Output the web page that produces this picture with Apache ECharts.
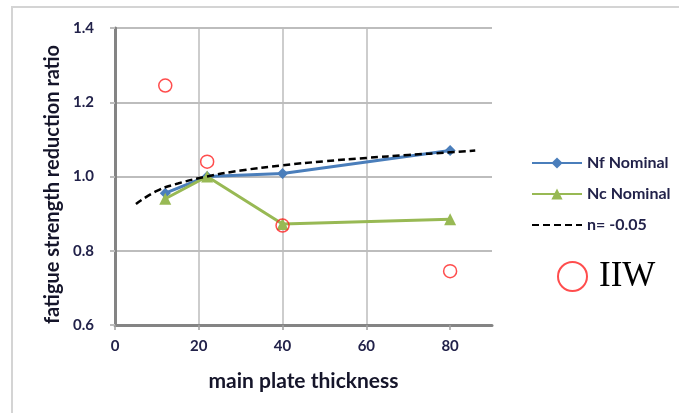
<!DOCTYPE html>
<html>
<head>
<meta charset="utf-8">
<script src="https://cdn.jsdelivr.net/npm/echarts@6/dist/echarts.min.js"></script>
<style>
	html, body { margin: 0; padding: 0; background: #fff; }
	#main { width: 679px; height: 413px; }
</style>
</head>
<body>
<div id="main"></div>
<script>
// values
var thickness = [12, 22, 40, 80];
var nfNominal = [0.955, 1.0, 1.008, 1.07];
var ncNominal = [0.94, 1.0, 0.872, 0.885];
var iiwThickness = [12, 22, 40, 80];
var iiwValues = [1.245, 1.04, 0.868, 0.745];
// dashed n= -0.05 curve
var curveThickness = [5, 10, 15, 22, 30, 40, 50, 60, 70, 80, 86];
var curveValues = [0.926, 0.961, 0.981, 1.0, 1.016, 1.03, 1.041, 1.05, 1.058, 1.065, 1.07];
var xTicks = [0, 20, 40, 60, 80];
var yTicks = [0.6, 0.8, 1.0, 1.2, 1.4];

function pairs(xs, ys){
	var out = [];
	for(var i = 0; i < xs.length; i++){
		out.push([xs[i], ys[i]]);
	}
	return out;
}

var labelColor = '#22224a';
var nameColor = '#15152a';
var myChart = echarts.init(document.getElementById('main'));
var option = {
	animation: false,
	graphic: [{
		type: 'rect',
		shape: { x: 12, y: 7, width: 720, height: 430 },
		style: { fill: 'none', stroke: '#d4d4d4', lineWidth: 2 },
		silent: true
	}],
	grid: { left: 115, top: 28, right: 187, bottom: 88 },
	legend: [{
		orient: 'vertical',
		left: 526,
		top: 150,
		itemWidth: 50,
		itemHeight: 14,
		itemGap: 15,
		textStyle: { fontFamily: 'Lato', fontWeight: 'bold', fontSize: 16, color: labelColor },
		data: [
			'Nf Nominal',
			'Nc Nominal',
			{ name: 'n= -0.05', itemStyle: { color: 'rgba(0,0,0,0)', opacity: 0 } }
		]
	}, {
		left: 552,
		top: 254,
		itemWidth: 29,
		itemHeight: 29,
		itemGap: 0,
		textStyle: { fontFamily: 'Liberation Serif', fontSize: 35, color: '#000', padding: [0, 0, 0, 7] },
		itemStyle: { color: 'rgba(255,255,255,0)', borderColor: '#ff2020', borderWidth: 2 },
		data: ['IIW']
	}],
	xAxis: {
		type: 'value',
		min: 0,
		max: 90,
		interval: 20,
		name: 'main plate thickness',
		nameLocation: 'middle',
		nameGap: 46,
		nameTextStyle: { fontFamily: 'Lato', fontWeight: 'bold', fontSize: 21, color: nameColor },
		axisLine: { lineStyle: { color: '#848484', width: 3 } },
		axisTick: { show: true, inside: false, length: 5, customValues: xTicks, lineStyle: { color: '#a0a0a0', width: 1.5 } },
		axisLabel: {
			margin: 14,
			fontFamily: 'Lato', fontWeight: 'bold', fontSize: 15, color: labelColor,
			customValues: xTicks
		},
		splitLine: { show: true, showMinLine: false, showMaxLine: false, lineStyle: { color: '#bdbdbd', width: 1.5 } }
	},
	yAxis: {
		type: 'value',
		min: 0.6,
		max: 1.4,
		interval: 0.2,
		name: 'fatigue strength reduction ratio',
		nameLocation: 'middle',
		nameGap: 52,
		nameTextStyle: { fontFamily: 'Lato', fontWeight: 'bold', fontSize: 20, color: nameColor, padding: [0, 16, 0, 0] },
		axisLine: { show: true, lineStyle: { color: '#848484', width: 3 } },
		axisTick: { show: true, inside: false, length: 5, lineStyle: { color: '#bdbdbd', width: 2 } },
		axisLabel: {
			margin: 21,
			fontFamily: 'Lato', fontWeight: 'bold', fontSize: 15, color: labelColor,
			customValues: yTicks,
			formatter: function(v){ return v.toFixed(1); }
		},
		splitLine: { show: true, lineStyle: { color: '#bdbdbd', width: 2 } }
	},
	series: [{
		name: 'Nf Nominal',
		type: 'line',
		data: pairs(thickness, nfNominal),
		symbol: 'diamond',
		symbolSize: 11,
		lineStyle: { color: '#4a7ebb', width: 3 },
		itemStyle: { color: '#4a7ebb' },
		z: 2
	}, {
		name: 'Nc Nominal',
		type: 'line',
		data: pairs(thickness, ncNominal),
		symbol: 'triangle',
		symbolSize: 12,
		lineStyle: { color: '#98b954', width: 3 },
		itemStyle: { color: '#98b954' },
		z: 3
	}, {
		name: 'n= -0.05',
		type: 'line',
		data: pairs(curveThickness, curveValues),
		smooth: true,
		showSymbol: false,
		symbol: 'none',
		lineStyle: { color: '#000', width: 2.5, type: [7, 4] },
		itemStyle: { color: '#000' },
		z: 4
	}, {
		name: 'IIW',
		type: 'scatter',
		data: pairs(iiwThickness, iiwValues),
		symbol: 'circle',
		symbolSize: 13,
		itemStyle: { color: 'rgba(255,255,255,0)', borderColor: '#ff2020', borderWidth: 1.5 },
		z: 5
	}]
};
myChart.setOption(option);
</script>
</body>
</html>
